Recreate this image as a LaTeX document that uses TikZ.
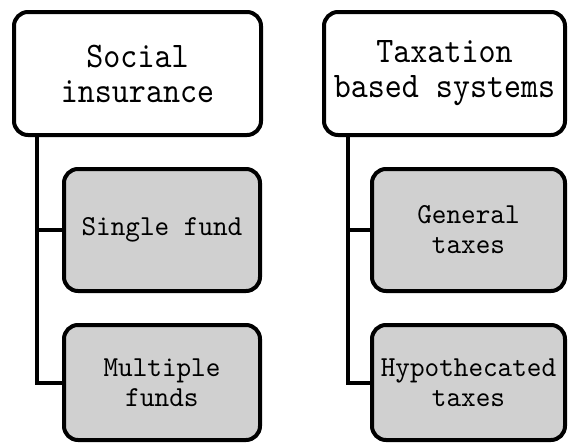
\documentclass[tikz,border=0pt]{standalone}
\usepackage{fontspec}
\newfontfamily\topmono[FakeStretch=0.9]{lmmono10-regular.otf}
\newfontfamily\submono[FakeStretch=0.96]{lmmono10-regular.otf}
\definecolor{boxgray}{HTML}{D0D0D0}
\begin{document}
\begin{tikzpicture}[x=1pt,y=-1pt,
  topbox/.style={draw=black, line width=4pt, rounded corners=14pt, fill=white,
    inner sep=0pt, align=center, font=\topmono\fontsize{36}{35}\selectfont},
  subbox/.style={draw=black, line width=4pt, rounded corners=14pt, fill=boxgray,
    inner sep=0pt, align=center, font=\submono\fontsize{29}{30}\selectfont},
  link/.style={draw=black, line width=4pt}]
\useasboundingbox (0,0) rectangle (570,445);
\node[topbox, minimum width=247pt, minimum height=123pt] (A) at (137.5,73.5) {Social\\insurance};
\node[topbox, minimum width=241pt, minimum height=123pt] (B) at (444.5,73.5) {Taxation\\based systems};
\node[subbox, minimum width=196pt, minimum height=122pt] (C) at (162,230) {Single fund};
\node[subbox, minimum width=196pt, minimum height=115pt] (D) at (162,382.5) {Multiple\\funds};
\node[subbox, minimum width=193pt, minimum height=122pt] (E) at (468.5,230) {General\\taxes};
\node[subbox, minimum width=193pt, minimum height=115pt] (F) at (468.5,382.5) {Hypothecated\\taxes};
\coordinate (la) at (37,0);
\coordinate (ra) at (348,0);
\draw[link] (A.south -| la) |- (C.west);
\draw[link] (A.south -| la) |- (D.west);
\draw[link] (B.south -| ra) |- (E.west);
\draw[link] (B.south -| ra) |- (F.west);
\end{tikzpicture}
\end{document}
